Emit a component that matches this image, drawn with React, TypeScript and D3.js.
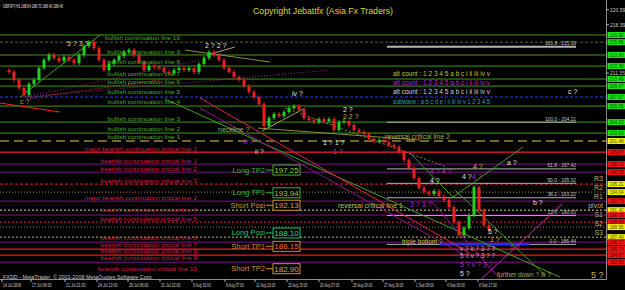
import React from "react";
import * as d3 from "d3";

const W = 625;
const H = 290;
const PR = 606; // plot right
const PB = 279; // plot bottom
const FONT = "'Liberation Sans', Arial, sans-serif";

// ---- price series (H1 closes, sampled) ----
const closes = [
  211.8, 211.51, 210.35, 209.18, 208.16, 209.76, 210.35, 212.09, 213.26, 213.99,
  213.55, 213.11, 213.69, 213.26, 212.82, 213.99, 215.3, 215.88, 215.0, 213.26,
  211.8, 212.68, 213.26, 213.84, 214.42, 214.71, 213.99, 212.97, 211.8, 212.38,
  212.24, 212.09, 211.51, 211.37, 211.8, 212.09, 211.8, 212.09, 211.51, 212.68,
  213.55, 214.42, 213.99, 213.26, 212.09, 211.51, 210.78, 210.35, 209.47, 208.6,
  207.87, 206.85, 203.65, 204.82, 205.4, 205.11, 205.69, 206.27, 206.56, 205.98,
  204.82, 204.52, 204.23, 204.67, 204.38, 204.67, 203.07, 204.23, 204.38, 203.8,
  203.07, 202.78, 202.49, 201.76, 201.47, 201.61, 201.32, 200.88, 200.59, 199.87,
  198.7, 197.54, 196.08, 194.63, 194.04, 193.75, 194.19, 193.46, 192.88, 191.86,
  189.69, 187.78, 188.8, 190.7, 194.77, 191.42, 189.24, 188.46,
];

const timeLabels = [
  "14 Jul 2008", "17 Jul 06:00", "21 Jul 21:00", "24 Jul 13:00", "29 Jul 06:00",
  "31 Jul 22:00", "5 Aug 16:00", "8 Aug 07:00", "12 Aug 23:00", "15 Aug 15:00",
  "20 Aug 07:00", "25 Aug 00:00", "27 Aug 16:00", "1 Sep 08:00", "4 Sep 00:00",
  "8 Sep 17:00",
];
const timeTickBars = [-0.4, 5.4, 12.2, 18.6, 24.8, 31.2, 37.6, 44.2, 50.2, 56.6, 63, 69.6, 75.8, 82.2, 88.4, 94.8];

const axisTickPrices = [220.59, 218.39, 211.35];

// ---- horizontal lines ----
const hLinePrices = [
  216.9, 215.86, 213.99, 212.38, 210.49, 209.47, 207.87, 207.8, 206.56, 204.23, 202.63,
  201.48, 199.87, 198.12, 196.95, 195.21, 194.04, 192.73, 191.42, 190.7, 189.68, 188.95,
  187.49, 186.77, 185.75, 184.87, 183.85,
];
const hLineColors = [
  "#3c9c14", "#56663a", "#3c9c14", "#3c9c14", "#3c9c14", "#3c9c14", "#2a3cff", "#3c9c14", "#3c9c14", "#3c9c14", "#3c9c14",
  "#6e6a1e", "#ff1a2a", "#84108c", "#84108c", "#e8203a", "#a08c3c", "#84108c", "#d8d890", "#84108c", "#e8203a", "#8c8c78",
  "#c8c050", "#84108c", "#f01a28", "#f01a28", "#84108c",
];
const hLineDash = [
  "", "3,2", "", "", "", "", "3,2", "", "", "", "",
  "9,5", "", "", "", "3,2", "1,2", "", "2,2", "", "2,2", "1,2",
  "2,2", "", "", "", "",
];
const hLineWidth = [
  1, 1, 1, 1, 1, 1, 1, 0, 1, 1, 1,
  2, 1.2, 1, 1, 1, 1, 1, 1, 1, 1, 1,
  1, 1, 1.2, 1.2, 1,
];
const hLineBox = [
  "g", "g", "g", "g", "g", "g", "g", "", "g", "g", "g",
  "y", "r", "r", "r", "y", "y", "r", "y", "r", "r", "y",
  "y", "r", "r", "r", "r",
];

// ---- line labels ----
const bullishNames = [
  "bullish continuation line 10", "bullish continuation line 9", "bullish continuation line 8",
  "bullish continuation line 7", "bullish continuation line 6", "bullish continuation line 5",
  "bullish continuation line 4", "bullish continuation line 3", "bullish continuation line 2",
  "bullish continuation line 1",
];
const bullishPrices = [216.17, 214.13, 212.68, 210.93, 209.76, 208.31, 206.85, 204.38, 202.92, 201.76];

const bearishNames = [
  "major bearish continuation critical line 1", "bearish continuation critical line 1",
  "bearish continuation critical line 2", "bearish continuation critical line 3",
  "major bearish continuation critical line 2", "bearish continuation critical line 4",
  "bearish continuation critical line 5", "bearish continuation critical line 6",
  "bearish continuation critical line 7", "bearish continuation critical line 8",
  "bearish continuation critical line 9", "bearish continuation critical line 10",
];
const bearishPrices = [200.01, 198.26, 197.1, 195.35, 192.88, 191.13, 189.82, 187.06, 186.04, 185.17, 184.15, 182.55];

const countNames = [
  "alt count : 1 2 3 4 5 a b c i ii iii iv v",
  "alt count : 1 2 3 4 5 a b c i ii iii iv v",
  "alt count : 1 2 3 4 5 a b c i ii iii iv v",
  "subwave : a b c d e i ii iii iv v 1 2 3 4 5",
];
const countPrices = [210.93, 209.62, 208.31, 206.85];
const countColors = ["#c8c020", "#c020c8", "#d0d0d0", "#20a8a8"];

// ---- trade levels ----
const tradeNames = ["Long TP2", "Long TP1", "Short Posi", "Long Posi", "Short TP1", "Short TP2"];
const tradePrices = [197.25, 193.94, 192.13, 188.1, 186.15, 182.9];
const tradeColors = ["#3cb43c", "#3cb43c", "#d09030", "#20c070", "#d08a28", "#d09030"];
const tradeValueColors = ["#8cd23c", "#8cd23c", "#e0a040", "#20d890", "#ff6a30", "#e0a040"];

// ---- pivots ----
const pivotNames = ["R3", "R2", "R1", "pivot", "S1", "S2", "S3"];
const pivotPrices = [195.64, 194.34, 193.02, 191.72, 190.4, 189.09, 187.78];
const pivotLabelBar = 119.8;

// ---- fibonacci ----
const fibLevels = ["161.8", "100.0", "61.8", "50.0", "38.2", "23.6", "0.0"];
const fibPrices = [215.19, 204.21, 197.42, 195.32, 193.22, 190.63, 186.44];
const fibStartBar = 76.6;
const fibEndBar = 114.4;

// ---- trendlines ----
const trendBars = [
  [-0.8, 11.2], [3.2, 19.2], [36.2, 53.2], [40.6, 46.2], [56.2, 88.6], [50.8, 83.2],
  [51.6, 60.2], [32.2, 111.2], [39.2, 93.2], [39.2, 93.2], [81.2, 89.8], [89.8, 103.8],
  [90.2, 108.2], [85.2, 101.6], [95.2, 111.6], [4.2, 39.2], [4.2, 65.2], [5.2, 31.2],
];
const trendPrices = [
  [207.0, 205.69], [207.87, 216.9], [214.71, 212.97], [213.99, 215.15], [206.27, 197.68], [203.36, 201.61],
  [202.92, 206.27], [207.58, 181.67], [206.27, 184.44], [207.73, 185.16], [199.72, 193.32], [193.32, 200.59],
  [194.34, 181.96], [192.88, 179.49], [181.23, 192.3], [207.87, 213.26], [207.87, 211.8], [207.73, 210.35],
];
const trendColors = [
  "#ff2020", "#3f9f1f", "#8c8c3c", "#a0a0a0", "#8c8c3c", "#8c8c3c",
  "#a0a040", "#3f9f1f", "#8a108a", "#e0204a", "#3f9f1f", "#3f9f1f",
  "#3f9f1f", "#a010a0", "#d020c0", "#a020a0", "#a020a0", "#ff3030",
];
const trendDash = ["", "", "", "", "2,2", "", "", "", "", "", "", "", "", "", "", "1,2", "1,2", "1,2"];

// ---- wave labels ----
const waveTexts = [
  "c ?", "5 ? 3 ?", "2 ? 2 ?", "iv ?", "neckline ?", "iii ?", "ii ?", "2 ?", "2 2 ?", "1 ? 1 ?",
  "1 ?", "4 ?", "a ?", "4 ? 4 ?", "4 ?", "4 ?", "4 ?", "b ?", "3 ? 3 ?", "5 ?", "1 ?",
  "triple bottom ?", "v ? v ? 3 ? ?", "5 ? v ? 3 ? ?", "5 ? v ? 3 ?", "5 ?", "5 ?",
  "further down ? iii ?", "5 ?", "c ?", "reversal critical line 2", "reversal critical line 1",
];
const waveBars = [
  3.2, 12.6, 40.2, 57.6, 42.8, 47.8, 50.2, 67.8, 67.8, 63.8,
  65.8, 93.8, 100.6, 85.2, 91.6, 93.6, 85.2, 105.8, 81.2, 96.8, 97.2,
  79.6, 91.2, 91.2, 91.2, 91.2, 101.2,
  98.6, 117.4, 112.8, 76.2, 66.8,
];
const wavePrices = [
  206.85, 215.3, 215.0, 208.02, 202.78, 201.03, 199.57, 205.69, 204.67, 200.88,
  199.57, 197.39, 197.97, 196.66, 195.94, 195.94, 195.35, 192.15, 191.86, 187.93, 186.77,
  186.47, 185.46, 184.44, 183.13, 181.82, 185.6,
  181.67, 181.53, 208.31, 201.76, 191.71,
];
const waveColors = [
  "#b0b040", "#d0d0b0", "#e0e0e0", "#e0e0e0", "#a8a860", "#b030c0", "#d0d0d0", "#e0e0e0", "#b8b050", "#e0e0e0",
  "#c030c0", "#c8c040", "#e0e0e0", "#c030c0", "#e0e0e0", "#c030c0", "#e0e0e0", "#e0e0e0", "#b030c0", "#e0e0e0", "#b8b050",
  "#c8c040", "#c8a8e0", "#c8a8e0", "#b030c0", "#e0e0e0", "#d02090",
  "#b8a840", "#c8b840", "#e0e0e0", "#b0a850", "#c8c040",
];

const boxFill: Record<string, string> = { g: "#14e614", y: "#f0f000", r: "#f01414" };
const boxText: Record<string, string> = { g: "#0a4a0a", y: "#4a4a00", r: "#5a0000" };

export default function App() {
  const x = d3.scaleLinear().domain([0, 120.4]).range([4, PR]);
  const y = d3.scaleLinear().domain([181.4, 221.7]).range([PB, 2]);
  const cw = 3;

  const mtText = (s: string, per: number) => s.length * per;

  return (
    <div style={{ position: "fixed", left: 0, top: 0, width: W, height: H, background: "#000" }}>
      <svg width={W} height={H} style={{ display: "block" }} fontFamily={FONT}>
        <defs>
          <clipPath id="plot">
            <rect x={0} y={0} width={PR} height={PB} />
          </clipPath>
        </defs>
        <rect x={0} y={0} width={W} height={H} fill="#000" />

        <g clipPath="url(#plot)">
          {hLinePrices.map((p, i) =>
            hLineWidth[i] > 0 ? (
              <line key={"h" + i} x1={0} x2={PR} y1={y(p)} y2={y(p)} stroke={hLineColors[i]}
                strokeWidth={hLineWidth[i]} strokeDasharray={hLineDash[i] || undefined} />
            ) : null
          )}

          {fibPrices.map((p, i) => (
            <line key={"f" + i} x1={x(fibStartBar)} x2={x(fibEndBar)} y1={y(p)} y2={y(p)}
              stroke="#b4b4b4" strokeWidth={i === 0 ? 2 : 1} />
          ))}
          <line x1={x(87.2)} x2={x(105.2)} y1={y(fibPrices[6])} y2={y(fibPrices[6])} stroke="#2030ff" strokeWidth={2.5} />

          {trendBars.map((b, i) => (
            <line key={"t" + i} x1={x(b[0])} x2={x(b[1])} y1={y(trendPrices[i][0])} y2={y(trendPrices[i][1])}
              stroke={trendColors[i]} strokeWidth={1} strokeDasharray={trendDash[i] || undefined} />
          ))}

          {closes.map((c, i) => {
            if (i === 0) return null;
            const o = closes[i - 1];
            const top = y(Math.max(o, c));
            const bot = y(Math.min(o, c));
            const up = c >= o;
            return (
              <g key={"c" + i}>
                <line x1={x(i)} x2={x(i)} y1={top - 2} y2={bot + 2} stroke={up ? "#22d022" : "#e82020"} strokeWidth={1} />
                <rect x={x(i) - cw / 2} y={top} width={cw} height={Math.max(1, bot - top)}
                  fill={up ? "#22d022" : "#e82020"} />
              </g>
            );
          })}

          {bullishNames.map((s, i) => (
            <text key={"bl" + i} x={180} y={y(bullishPrices[i])} fontSize={6} fill="#44b02a" textAnchor="end"
              textLength={mtText(s, 2.68)} lengthAdjust="spacingAndGlyphs">{s}</text>
          ))}
          {bearishNames.map((s, i) => (
            <text key={"br" + i} x={197} y={y(bearishPrices[i])} fontSize={6} fill="#d41e4e" textAnchor="end"
              textLength={mtText(s, 2.68)} lengthAdjust="spacingAndGlyphs">{s}</text>
          ))}
          {countNames.map((s, i) => (
            <text key={"ct" + i} x={x(77.8)} y={y(countPrices[i])} fontSize={6.5} fill={countColors[i]}
              textLength={97} lengthAdjust="spacingAndGlyphs">{s}</text>
          ))}

          {tradeNames.map((s, i) => {
            const yy = y(tradePrices[i]);
            const bx = x(53.8);
            return (
              <g key={"tr" + i}>
                <text x={bx - 8} y={yy + 2.5} fontSize={7.5} fill={tradeColors[i]} textAnchor="end">{s}</text>
                <line x1={bx - 7} x2={bx} y1={yy} y2={yy} stroke={tradeColors[i]} strokeWidth={1} />
                <rect x={bx} y={yy - 5} width={27} height={10} fill="#000" stroke={tradeColors[i]} strokeWidth={1} />
                <text x={bx + 13.5} y={yy + 3} fontSize={8} fill={tradeValueColors[i]} textAnchor="middle">
                  {tradePrices[i].toFixed(2)}
                </text>
              </g>
            );
          })}

          {pivotNames.map((s, i) => (
            <text key={"pv" + i} x={x(pivotLabelBar)} y={y(pivotPrices[i])} fontSize={7} fill="#c0b070" textAnchor="end">{s}</text>
          ))}

          {fibLevels.map((s, i) => {
            const t = `${s} - ${fibPrices[i].toFixed(2)}`;
            return (
              <text key={"fl" + i} x={x(fibEndBar)} y={y(fibPrices[i]) - 1.5} fontSize={4.8} fill="#c8c8c8"
                textAnchor="end" textLength={mtText(t, 2.2)} lengthAdjust="spacingAndGlyphs">{t}</text>
            );
          })}

          {waveTexts.map((s, i) => {
            const long = s.length > 12;
            const big = s === "5 ?" && i === 28;
            return (
              <text key={"w" + i} x={x(waveBars[i])} y={y(wavePrices[i])} fontSize={big ? 9 : long ? 6.5 : 7}
                fill={waveColors[i]} textLength={long ? mtText(s, 2.7) : undefined}
                lengthAdjust={long ? "spacingAndGlyphs" : undefined}>{s}</text>
            );
          })}
        </g>

        <text x={253} y={14} fontSize={9} fill="#d8d820" textLength={140} lengthAdjust="spacingAndGlyphs">
          Copyright Jebattfx (Asia Fx Traders)
        </text>
        <text x={3} y={8} fontSize={4.5} fill="#e0e0e0" textLength={60} lengthAdjust="spacingAndGlyphs">
          GBPJPY,H1 188.64 188.70 188.40 188.46
        </text>
        <text x={3} y={278.5} fontSize={5} fill="#c8c8c8" textLength={150} lengthAdjust="spacingAndGlyphs">
          FXDD - MetaTrader, © 2001-2008 MetaQuotes Software Corp.
        </text>

        <line x1={PR + 0.5} x2={PR + 0.5} y1={0} y2={PB + 0.5} stroke="#8c8c8c" />
        <line x1={0} x2={PR + 0.5} y1={PB + 0.5} y2={PB + 0.5} stroke="#8c8c8c" />

        {axisTickPrices.map((p, i) => (
          <g key={"at" + i}>
            <line x1={PR} x2={PR + 3} y1={y(p)} y2={y(p)} stroke="#b0b0b0" />
            <text x={PR + 4} y={y(p) + 2} fontSize={5} fill="#c8c8c8">{p.toFixed(2)}</text>
          </g>
        ))}
        {hLinePrices.map((p, i) =>
          hLineBox[i] ? (
            <g key={"ab" + i}>
              <rect x={PR + 1.5} y={y(p) - 3} width={18} height={6} fill={boxFill[hLineBox[i]]} />
              <text x={PR + 10.5} y={y(p) + 1.7} fontSize={4.6} fill={boxText[hLineBox[i]]} textAnchor="middle">
                {p.toFixed(2)}
              </text>
            </g>
          ) : null
        )}

        {timeLabels.map((s, i) => (
          <g key={"tl" + i}>
            <line x1={x(timeTickBars[i])} x2={x(timeTickBars[i])} y1={PB} y2={PB + 3} stroke="#b0b0b0" />
            <text x={x(timeTickBars[i]) + 1} y={287} fontSize={5} fill="#d0d0d0"
              textLength={mtText(s, 1.62)} lengthAdjust="spacingAndGlyphs">{s}</text>
          </g>
        ))}
      </svg>
    </div>
  );
}
